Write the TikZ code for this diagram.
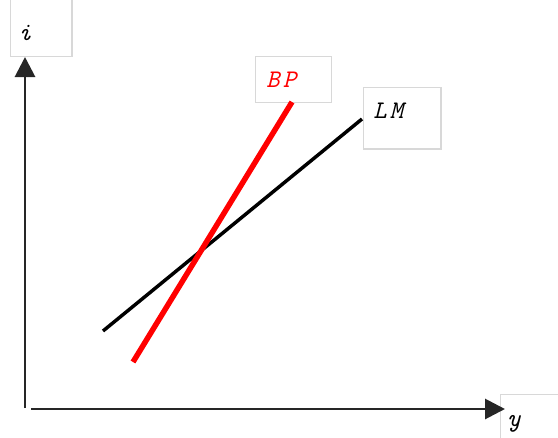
\documentclass[tikz,border=0pt]{standalone}
\usetikzlibrary{arrows.meta}
\definecolor{boxgray}{HTML}{D8D8D8}
\definecolor{bpred}{HTML}{FF0000}
\tikzset{
  labelbox/.style={draw=boxgray, line width=0.9pt, fill=white, inner sep=0pt, anchor=north west},
  labeltext/.style={font=\ttfamily\itshape\fontsize{19}{19}\selectfont, inner sep=0pt, anchor=base west},
  axis/.style={line width=2.2pt, draw=black!85, -{Triangle[length=15pt,width=15pt]}},
}
\newcommand{\gapx}{\kern2.5pt}
\begin{document}
\begin{tikzpicture}[x=0.75pt,y=-0.75pt]
\useasboundingbox (0,0) rectangle (558,437);
% label boxes
\node[labelbox, minimum width=46pt, minimum height=45pt] (ibox) at (10,-4) {};
\node[labelbox, minimum width=57pt, minimum height=34.5pt] (bpbox) at (255,56) {};
\node[labelbox, minimum width=58pt, minimum height=46pt] (lmbox) at (363,87) {};
\node[labelbox, minimum width=50pt, minimum height=40pt] (ybox) at (500,394) {};
% texts
\node[labeltext] (itext) at (18,40) {i};
\node[labeltext, text=bpred] (bptext) at (266,87) {B\gapx P};
\node[labeltext] (lmtext) at (373,118) {L\gapx M};
\node[labeltext] (ytext) at (507,426) {y};
% axes
\coordinate (yfoot) at (25,408);
\coordinate (ytop) at (25,57);
\coordinate (xfoot) at (31,409);
\coordinate (xend) at (505,409);
\draw[axis] (yfoot) -- (ytop);
\draw[axis] (xfoot) -- (xend);
% curves
\coordinate (lm1) at (103,331);
\coordinate (lm2) at (362,119);
\coordinate (bp1) at (133,362);
\coordinate (bp2) at (292,102);
\draw[line width=2.6pt, black] (lm1) -- (lm2);
\draw[line width=4.1pt, bpred] (bp1) -- (bp2);
\end{tikzpicture}
\end{document}
